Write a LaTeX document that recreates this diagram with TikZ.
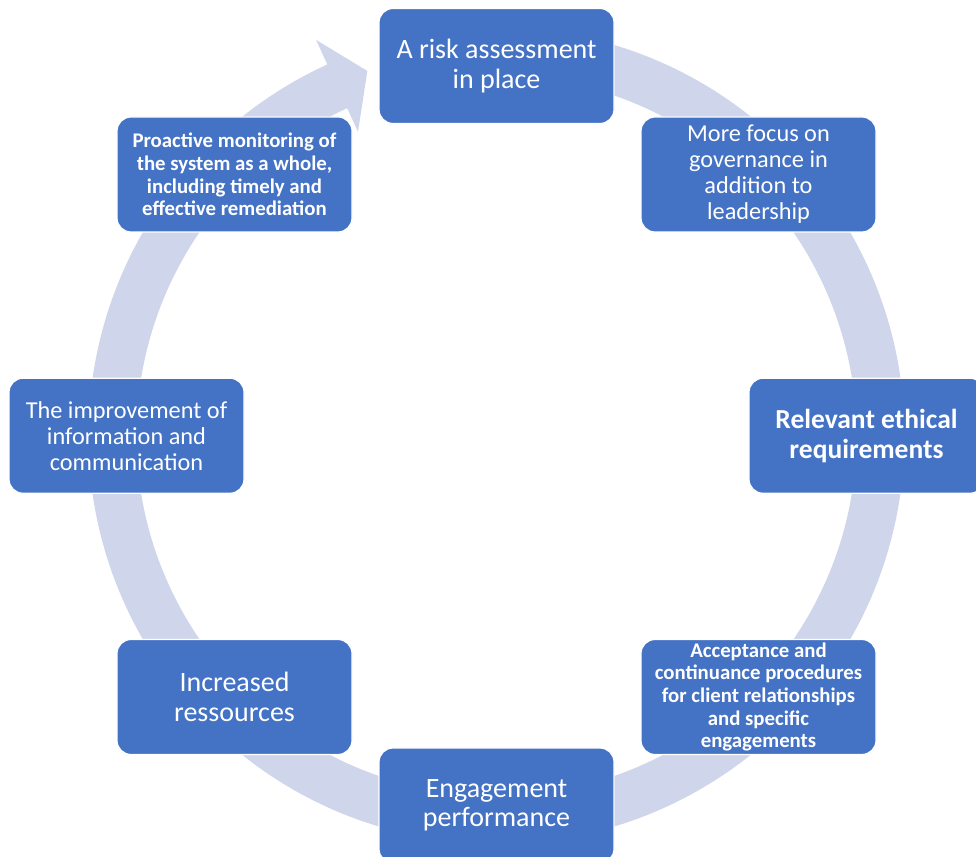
\documentclass[tikz,border=0pt]{standalone}
\usepackage{fontspec}
\setmainfont{Carlito}

\definecolor{boxblue}{RGB}{68,114,196}
\definecolor{ringblue}{RGB}{207,213,234}

\tikzset{
    stage/.style={rectangle, rounded corners=14pt, fill=boxblue, draw=white, line width=1.2pt,
        minimum width=235pt, minimum height=115pt, inner sep=1pt, text=white, align=center},
    bigtext/.style={font=\fontsize{28}{29.5}\selectfont},
    midtext/.style={font=\fontsize{24.3}{26}\selectfont},
    boldtext/.style={font=\fontsize{27.5}{30}\selectfont\bfseries},
    smalltext/.style={font=\fontsize{20.8}{22.6}\selectfont\bfseries},
}

\begin{document}
\begin{tikzpicture}[x=1pt, y=1pt]
    \useasboundingbox (0, 0) rectangle (976, 856);
    \clip (0, 0) rectangle (976, 856);
    \coordinate (centre) at (496.5, 420.25);

    \fill[ringblue, shift={(centre)}]
        (85:408) arc[start angle=85, end angle=-245.5, radius=408pt]
        -- (114.5:435) -- (109.5:387) -- (114.5:334) -- (114.5:360)
        arc[start angle=-245.5, end angle=85, radius=360pt] -- cycle;

    \node[stage, bigtext]   (risk)       at (496.5, 790)    {A risk assessment\\in place};
    \node[stage, midtext]   (governance) at (758.5, 681.5)  {More focus on\\governance in\\addition to\\leadership};
    \node[stage, boldtext]  (ethics)     at (866.5, 420.25) {Relevant ethical\\requirements};
    \node[stage, smalltext] (acceptance) at (758.5, 159)    {Acceptance and\\continuance procedures\\for client relationships\\and specific\\engagements};
    \node[stage, bigtext]   (engagement) at (496.5, 50.5)   {Engagement\\performance};
    \node[stage, bigtext]   (resources)  at (234.5, 159)    {Increased\\ressources};
    \node[stage, midtext]   (information) at (126.5, 420.25) {The improvement of\\information and\\communication};
    \node[stage, smalltext] (monitoring) at (234.5, 681.5)  {Proactive monitoring of\\the system as a whole,\\including timely and\\effective remediation};
\end{tikzpicture}
\end{document}
